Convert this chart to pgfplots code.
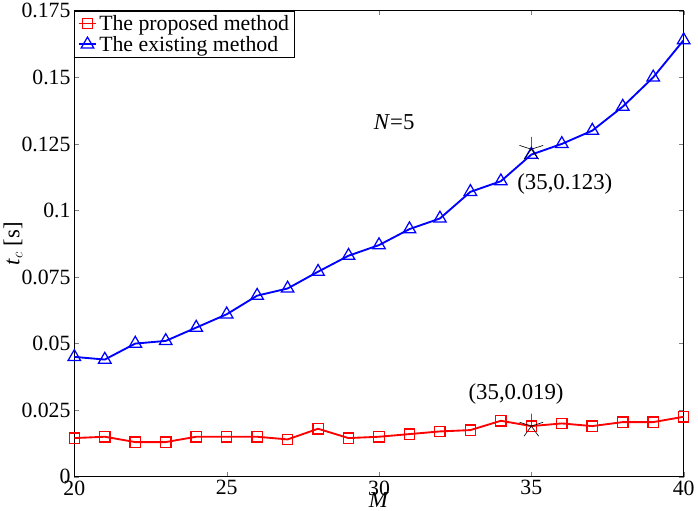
\documentclass[border=0pt]{standalone}
\usepackage{pgfplots}
\pgfplotsset{compat=1.18}
\usepackage{fontspec}
\setmainfont{Liberation Serif}
\begin{document}
\begin{tikzpicture}
\begin{axis}[width=586bp,height=448bp,scale only axis,
  xmin=20,xmax=40,ymin=0,ymax=0.175,
  xtick={20,25,...,40},
  ytick={0,0.025,0.05,0.075,0.1,0.125,0.15,0.175},
  yticklabels={0,0.025,0.05,0.075,0.1,0.125,0.15,0.175},
  /pgf/number format/assume math mode=true,
  ticklabel style={font=\fontsize{21}{21}\selectfont},
  tick align=inside, line width=0.8pt,
  xlabel={\textit{M}}, ylabel={\textit{t}$_c$ [s]},
  label style={font=\fontsize{22}{22}\selectfont},
  xlabel style={yshift=10pt}, ylabel style={yshift=-8pt},
  legend style={at={(0,1)},anchor=north west,font=\fontsize{21}{21}\selectfont,draw=black,line width=0.5pt},
  legend cell align=left,
]
\addplot[red,line width=1.8pt,mark=square,mark size=5pt,mark options={line width=1.2pt}] coordinates {
(20,0.0145)(21,0.015)(22,0.013)(23,0.013)(24,0.015)(25,0.015)(26,0.015)(27,0.014)(28,0.018)(29,0.0145)(30,0.015)(31,0.016)(32,0.017)(33,0.0175)(34,0.021)(35,0.019)(36,0.020)(37,0.019)(38,0.0205)(39,0.0205)(40,0.0225)};
\addlegendentry{The proposed method}
\addplot[blue,line width=1.8pt,mark=triangle,mark size=7pt,mark options={line width=1.2pt}] coordinates {
(20,0.045)(21,0.044)(22,0.050)(23,0.051)(24,0.056)(25,0.061)(26,0.068)(27,0.0707)(28,0.077)(29,0.083)(30,0.087)(31,0.093)(32,0.097)(33,0.107)(34,0.111)(35,0.121)(36,0.125)(37,0.130)(38,0.139)(39,0.150)(40,0.164)};
\addlegendentry{The existing method}
\addplot[only marks,mark=star,mark size=12pt,forget plot,
  mark options={draw=black,fill=green!60!black,line width=0.6pt}] coordinates {(35,0.019)(35,0.123)};
\node[font=\fontsize{22}{22}\selectfont] at (axis cs:30.5,0.133) {\textit{N}=5};
\node[font=\fontsize{22}{22}\selectfont] at (axis cs:36.1,0.11) {(35,0.123)};
\node[font=\fontsize{22}{22}\selectfont] at (axis cs:34.5,0.031) {(35,0.019)};
\end{axis}
\end{tikzpicture}
\end{document}
